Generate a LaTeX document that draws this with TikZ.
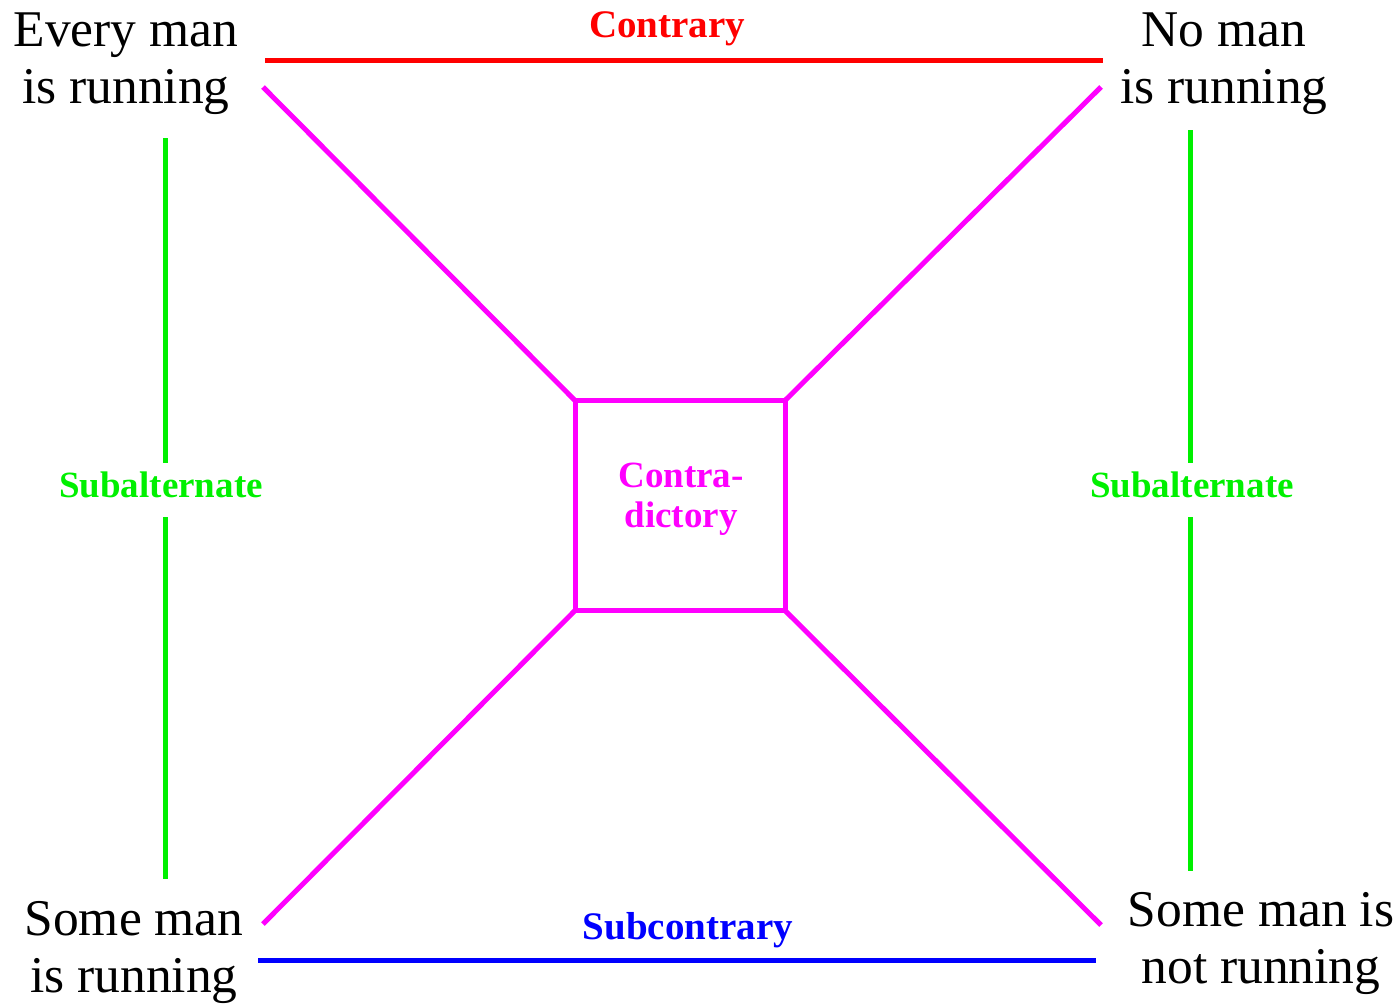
\documentclass[tikz,border=0pt]{standalone}
\usepackage{fontspec}
\setmainfont{Liberation Serif}
\definecolor{contraryred}{RGB}{255,0,0}
\definecolor{subcontblue}{RGB}{0,0,255}
\definecolor{subaltgreen}{RGB}{0,240,0}
\definecolor{contradmag}{RGB}{255,0,255}
\begin{document}
\begin{tikzpicture}[x=1pt,y=-1pt,
  prop/.style={font=\fontsize{51.5}{57}\selectfont, align=center, inner sep=0pt},
  bigtag/.style={font=\fontsize{39}{42}\selectfont\bfseries, inner sep=0pt},
  smalltag/.style={font=\fontsize{37}{40}\selectfont\bfseries, inner sep=0pt},
  relline/.style={line width=5pt},
  square/.style={draw=contradmag, line width=5pt, minimum size=210pt,
                 inner sep=0pt, outer sep=0pt}]
\useasboundingbox (0,0) rectangle (1399,1004);

% the four propositions
\node[prop, anchor=north] (A) at (126,13)  {Every man\\is running};
\node[prop, anchor=north] (E) at (1224,13) {No man\\is running};
\node[prop, anchor=north] (I) at (134,901) {Some man\\is running};
\node[prop, anchor=north] (O) at (1261,892) {Some man is\\not running};

% relation labels
\node[bigtag, text=contraryred, anchor=base] (contrary) at (667,37) {Contrary};
\node[bigtag, text=subcontblue, anchor=base] (subcontrary) at (688,939) {Subcontrary};
\node[smalltag, text=subaltgreen, anchor=base] (subL) at (161,497) {Subalternate};
\node[smalltag, text=subaltgreen, anchor=base] (subR) at (1192,497) {Subalternate};

% central square of contradiction
\node[square] (sq) at (680,505.5) {};
\node[smalltag, text=contradmag, align=center] (contra) at (681,499) {Contra-\\dictory};

% end points of the relation lines
\coordinate (ctL) at (265,60);   \coordinate (ctR) at (1103,60);
\coordinate (scL) at (258,960);  \coordinate (scR) at (1096,960);
\coordinate (gL1) at (165,138);  \coordinate (gL2) at (165,463);
\coordinate (gL3) at (165,517);  \coordinate (gL4) at (165,879);
\coordinate (gR1) at (1190,130); \coordinate (gR2) at (1190,463);
\coordinate (gR3) at (1190,517); \coordinate (gR4) at (1190,871);
\coordinate (mA) at (263,87);    \coordinate (mE) at (1101,87);
\coordinate (mI) at (263,924);   \coordinate (mO) at (1101,925);

% contrary and subcontrary
\draw[relline, contraryred] (ctL) -- (ctR);
\draw[relline, subcontblue] (scL) -- (scR);

% subalternation
\draw[relline, subaltgreen] (gL1) -- (gL2);
\draw[relline, subaltgreen] (gL3) -- (gL4);
\draw[relline, subaltgreen] (gR1) -- (gR2);
\draw[relline, subaltgreen] (gR3) -- (gR4);

% contradiction diagonals
\draw[relline, contradmag] (mA) -- (sq.north west);
\draw[relline, contradmag] (mE) -- (sq.north east);
\draw[relline, contradmag] (mI) -- (sq.south west);
\draw[relline, contradmag] (mO) -- (sq.south east);
\end{tikzpicture}
\end{document}
